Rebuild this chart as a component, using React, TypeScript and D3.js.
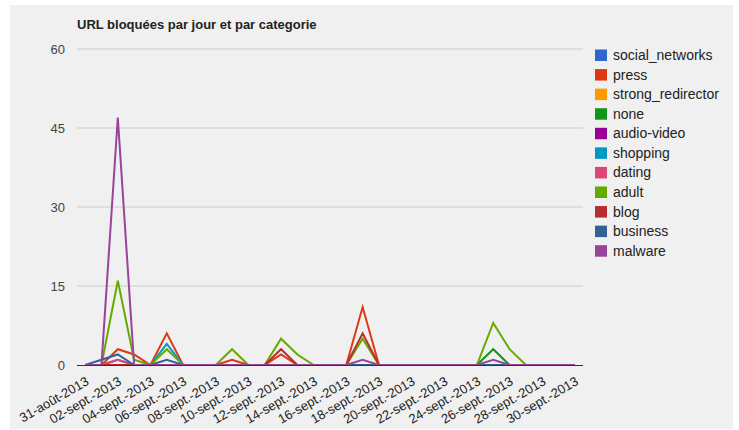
import React from "react";
import * as d3 from "d3";

const dates = [
  "31-août-2013",
  ...d3.range(1, 31).map((d) => `${String(d).padStart(2, "0")}-sept.-2013`),
];

const seriesNames = [
  "social_networks", "press", "strong_redirector", "none", "audio-video",
  "shopping", "dating", "adult", "blog", "business", "malware",
];
const colors = [
  "#3366cc", "#dc3912", "#ff9900", "#109618", "#990099",
  "#0099c6", "#dd4477", "#66aa00", "#b82e2e", "#316395", "#994499",
];

// values per day (31 days: 31 Aug .. 30 Sept)
const social_networks = [0,0,1,0,0,0,0,0,0,0,0,0,0,0,0,0,0,0,0,0,0,0,0,0,0,0,0,0,0,0,0];
const press =           [0,0,3,2,0,6,0,0,0,1,0,0,2,0,0,0,0,11,0,0,0,0,0,0,0,0,0,0,0,0,0];
const strong_redirector=[0,0,0,0,0,0,0,0,0,0,0,0,0,0,0,0,0,0,0,0,0,0,0,0,0,0,0,0,0,0,0];
const none =            [0,0,0,0,0,0,0,0,0,0,0,0,0,0,0,0,0,0,0,0,0,0,0,0,0,3,0,0,0,0,0];
const audio_video =     [0,0,0,0,0,0,0,0,0,0,0,0,0,0,0,0,0,0,0,0,0,0,0,0,0,0,0,0,0,0,0];
const shopping =        [0,0,0,0,0,4,0,0,0,0,0,0,0,0,0,0,0,0,0,0,0,0,0,0,0,0,0,0,0,0,0];
const dating =          [0,0,1,0,0,0,0,0,0,0,0,0,0,0,0,0,0,0,0,0,0,0,0,0,0,0,0,0,0,0,0];
const adult =           [0,0,16,1,0,3,0,0,0,3,0,0,5,2,0,0,0,5,0,0,0,0,0,0,0,8,3,0,0,0,0];
const blog =            [0,0,0,0,0,0,0,0,0,0,0,0,3,0,0,0,0,6,0,0,0,0,0,0,0,0,0,0,0,0,0];
const business =        [0,1,2,0,0,1,0,0,0,0,0,0,0,0,0,0,0,0,0,0,0,0,0,0,0,0,0,0,0,0,0];
const malware =         [0,0,47,0,0,0,0,0,0,0,0,0,0,0,0,0,0,1,0,0,0,0,0,0,0,1,0,0,0,0,0];

const seriesValues = [
  social_networks, press, strong_redirector, none, audio_video,
  shopping, dating, adult, blog, business, malware,
];
const yTicks = [0, 15, 30, 45, 60];

export default function App() {
  const W = 739, H = 430;
  const left = 77, right = 583, top = 49, bottom = 365;
  const x = d3.scaleBand<string>().domain(dates).range([left, right]);
  const y = d3.scaleLinear().domain([0, 60]).range([bottom, top]);
  const cx = (i: number) => (x(dates[i]) as number) + x.bandwidth() / 2;
  const line = d3.line<number>().x((_, i) => cx(i)).y((v) => y(v));
  const font = "Arial, 'Liberation Sans', sans-serif";

  return (
    <div style={{ position: "absolute", left: 0, top: 0 }}>
      <svg width={W} height={H} style={{ display: "block", fontFamily: font }}>
        <rect x={0} y={0} width={W} height={H} fill="#ffffff" />
        <rect x={10} y={5} width={723} height={424} fill="#f0f0f0" />
        <text x={77} y={29} fontSize={13} fontWeight="bold" fill="#222">
          URL bloquées par jour et par categorie
        </text>
        {yTicks.map((t) => (
          <g key={t}>
            {t !== 0 && (
              <line x1={left} x2={right} y1={y(t)} y2={y(t)} stroke="#cccccc" strokeWidth={1} />
            )}
            <text x={65} y={y(t) + 4.5} fontSize={13} textAnchor="end" fill="#444">
              {t}
            </text>
          </g>
        ))}
        {seriesValues.map((vals, k) => (
          <path
            key={seriesNames[k]}
            d={line(vals) as string}
            fill="none"
            stroke={colors[k]}
            strokeWidth={2}
          />
        ))}
        <line x1={left} x2={right} y1={bottom + 0.5} y2={bottom + 0.5} stroke="#333" strokeWidth={1} />
        {dates.map((d, i) =>
          i % 2 === 0 ? (
            <text
              key={d}
              transform={`translate(${cx(i) + 4.5},${bottom + 19}) rotate(-30)`}
              fontSize={13}
              textAnchor="end"
              fill="#222"
            >
              {d}
            </text>
          ) : null
        )}
        {seriesNames.map((n, k) => (
          <g key={n} transform={`translate(595,${49.5 + k * 19.57})`}>
            <rect x={0} y={0} width={12} height={11.5} fill={colors[k]} />
            <text x={18} y={10.5} fontSize={14} fill="#222">
              {n}
            </text>
          </g>
        ))}
      </svg>
    </div>
  );
}
